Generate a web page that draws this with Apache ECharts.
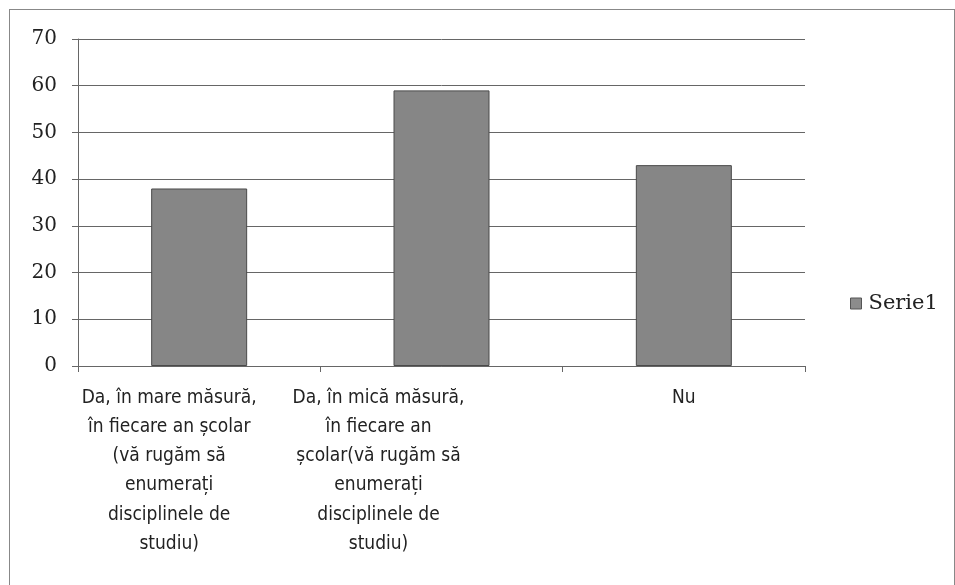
<!DOCTYPE html>
<html>
<head>
<meta charset="utf-8">
<script src="https://cdn.jsdelivr.net/npm/echarts@6/dist/echarts.min.js"></script>
<style>
  html, body { margin: 0; padding: 0; background: #fff; }
  #frame { position: absolute; left: 9px; top: 9px; width: 944px; height: 575px; border: 1px solid #888; border-bottom: none; }
  #chart { position: absolute; left: 0; top: 0; width: 955px; height: 585px; }
</style>
</head>
<body>
<div id="frame"></div>
<div id="chart"></div>
<script>
// categorii (cu ruperile de rand din original)
var categories = [
    'Da, în mare măsură,\nîn fiecare an școlar\n(vă rugăm să\nenumerați\ndisciplinele de\nstudiu)',
    'Da, în mică măsură,\nîn fiecare an\nșcolar(vă rugăm să\nenumerați\ndisciplinele de\nstudiu)',
    'Nu'
];
var serie1 = [38, 59, 43];
var yTicks = [0, 10, 20, 30, 40, 50, 60, 70];

var chart = echarts.init(document.getElementById('chart'));
var fontFam = '"DejaVu Serif", "Liberation Serif", serif';
var labelFam = '"Liberation Sans Narrow", "DejaVu Sans Condensed", "Noto Sans", sans-serif';

// etichetele primelor doua categorii sunt deplasate spre stanga in original
var labelStyles = ['a', 'b', 'c'];

chart.setOption({
    animation: false,
    textStyle: { fontFamily: fontFam },
    legend: {
        data: ['Serie1'],
        orient: 'vertical',
        left: 845,
        top: 288,
        icon: 'rect',
        itemWidth: 11,
        itemHeight: 11,
        itemGap: 6,
        itemStyle: { color: '#8c8c8c', borderColor: '#555', borderWidth: 1 },
        textStyle: { fontSize: 21, color: '#222', fontFamily: fontFam, padding: [0, 0, 0, 2] }
    },
    grid: { left: 78, right: 150, top: 39, bottom: 219 },
    xAxis: {
        type: 'category',
        data: categories,
        axisLine: { lineStyle: { color: '#666', width: 1 } },
        axisTick: { show: true, length: 6, lineStyle: { color: '#666' } },
        axisLabel: {
            interval: 0,
            margin: 17,
            color: '#222',
            formatter: function (value, index) {
                var s = labelStyles[index];
                return value.split('\n').map(function (l) {
                    return '{' + s + '|' + l + '}';
                }).join('\n');
            },
            rich: {
                a: { fontSize: 19, lineHeight: 29.3, fontFamily: labelFam, color: '#222', padding: [0, 60, 0, 0] },
                b: { fontSize: 19, lineHeight: 29.3, fontFamily: labelFam, color: '#222', padding: [0, 126, 0, 0] },
                c: { fontSize: 19, lineHeight: 29.3, fontFamily: labelFam, color: '#222', padding: [0, 0, 0, 0] }
            }
        }
    },
    yAxis: {
        type: 'value',
        min: yTicks[0],
        max: yTicks[yTicks.length - 1],
        interval: 10,
        axisLine: { show: true, lineStyle: { color: '#666', width: 1 } },
        axisTick: { show: true, length: 6, lineStyle: { color: '#666' } },
        axisLabel: { fontSize: 20, color: '#222', margin: 21, fontFamily: fontFam },
        splitLine: { lineStyle: { color: '#666', width: 1 } }
    },
    series: [{
        name: 'Serie1',
        type: 'bar',
        data: serie1,
        barWidth: 96,
        itemStyle: { color: '#868686', borderColor: '#4a4a4a', borderWidth: 1 }
    }]
});
</script>
</body>
</html>
